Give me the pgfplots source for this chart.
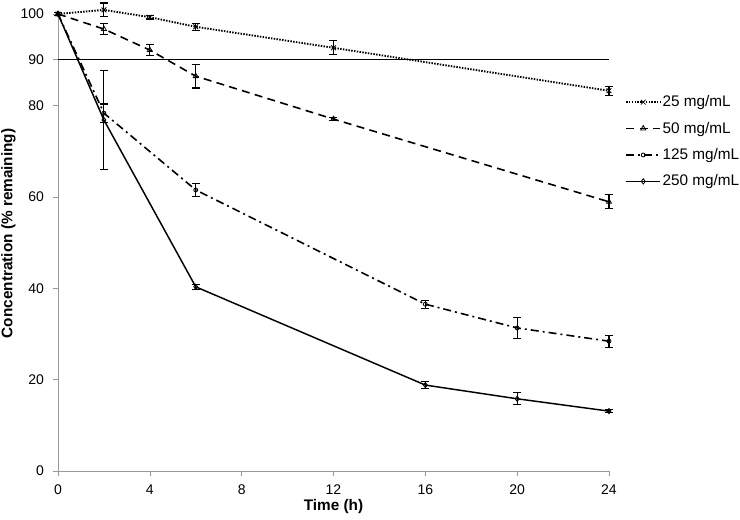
\documentclass[border=0pt]{standalone}
\usepackage{pgfplots}
\pgfplotsset{compat=1.18}
\usepackage{fontspec}
\setmainfont{Liberation Sans}
\begin{document}
\begin{tikzpicture}[x=1pt,y=1pt]
\useasboundingbox (-43.5,-36.75) rectangle (511.5,353.25);
\begin{axis}[
  at={(0,0)}, anchor=south west,
  scale only axis, width=413.25pt, height=342.75pt,
  xmin=0, xmax=24, ymin=0, ymax=100,
  axis x line=bottom, axis y line=left,
  axis line style={draw=gray!80, -},
  xtick={0,4,8,12,16,20,24},
  ytick={0,20,40,60,80,90,100},
  tick style={draw=gray!80, thin},
  tick align=outside, major tick length=4pt,
  /pgf/number format/assume math mode=true,
  ticklabel style={font=\fontsize{10.5}{12}\selectfont},
  xticklabel style={yshift=-3pt},
  yticklabel style={xshift=-3pt},
  xlabel={Time (h)}, ylabel={Concentration (\% remaining)},
  label style={font=\fontsize{11.5}{13}\selectfont\bfseries},
  xlabel style={at={(rel axis cs:0.5,-0.078)}, anchor=center},
  ylabel style={at={(rel axis cs:-0.09,0.52)}, anchor=center},
  clip=false,
  legend style={at={(rel axis cs:1.029,0.828)}, anchor=north west, draw=none,
    font=\fontsize{11.5}{13}\selectfont, row sep=6pt, inner sep=0pt,
    nodes={inner xsep=1pt}},
  legend image code/.code={%
    \draw[mark repeat=2,mark phase=2,#1] plot coordinates {(0cm,0cm) (0.45cm,0cm) (0.9cm,0cm)};},
  legend cell align=left,
  every axis plot/.append style={line width=1.1pt, black},
  error bars/error bar style={line width=0.8pt, solid, black},
  error bars/error mark options={rotate=90, mark size=3pt, line width=0.8pt, solid, black},
]
\addplot[black, thin, forget plot, line width=0.6pt] coordinates {(0,90) (24,90)};

\addplot[densely dotted, line width=1.4pt, mark=x, mark size=2.5pt, mark options={solid, line width=0.6pt},
  error bars/.cd, y dir=both, y explicit]
  coordinates {
  (0,100) +- (0,0.3)
  (2,100.9) +- (0,1.5)
  (4,99.3) +- (0,0.4)
  (6,97.2) +- (0,0.8)
  (12,92.6) +- (0,1.5)
  (24,83.2) +- (0,1.0)
  };
\addlegendentry{25 mg/mL}

\addplot[dash pattern=on 6pt off 4pt, line width=1.2pt, mark=triangle, mark size=2.2pt, mark options={solid, line width=0.6pt},
  error bars/.cd, y dir=both, y explicit]
  coordinates {
  (0,100) +- (0,0.3)
  (2,96.7) +- (0,1.2)
  (4,92.1) +- (0,1.2)
  (6,86.4) +- (0,2.6)
  (12,77.0) +- (0,0.4)
  (24,58.9) +- (0,1.5)
  };
\addlegendentry{50 mg/mL}

\addplot[dash pattern=on 6pt off 3pt on 1.5pt off 3pt, line width=1.2pt, mark=o, mark size=1.5pt, mark options={solid, line width=0.6pt},
  error bars/.cd, y dir=both, y explicit]
  coordinates {
  (0,100) +- (0,0.3)
  (2,78.3) +- (0,2.0)
  (6,61.5) +- (0,1.5)
  (16,36.5) +- (0,0.9)
  (20,31.3) +- (0,2.3)
  (24,28.4) +- (0,1.3)
  };
\addlegendentry{125 mg/mL}

\addplot[solid, mark=diamond, mark size=2pt, mark options={solid, line width=0.6pt},
  error bars/.cd, y dir=both, y explicit]
  coordinates {
  (0,100) +- (0,0.3)
  (2,76.8) +- (0,10.8)
  (6,40.3) +- (0,0.5)
  (16,18.8) +- (0,0.7)
  (20,15.8) +- (0,1.3)
  (24,13.1) +- (0,0.4)
  };
\addlegendentry{250 mg/mL}
\end{axis}
\end{tikzpicture}
\end{document}
